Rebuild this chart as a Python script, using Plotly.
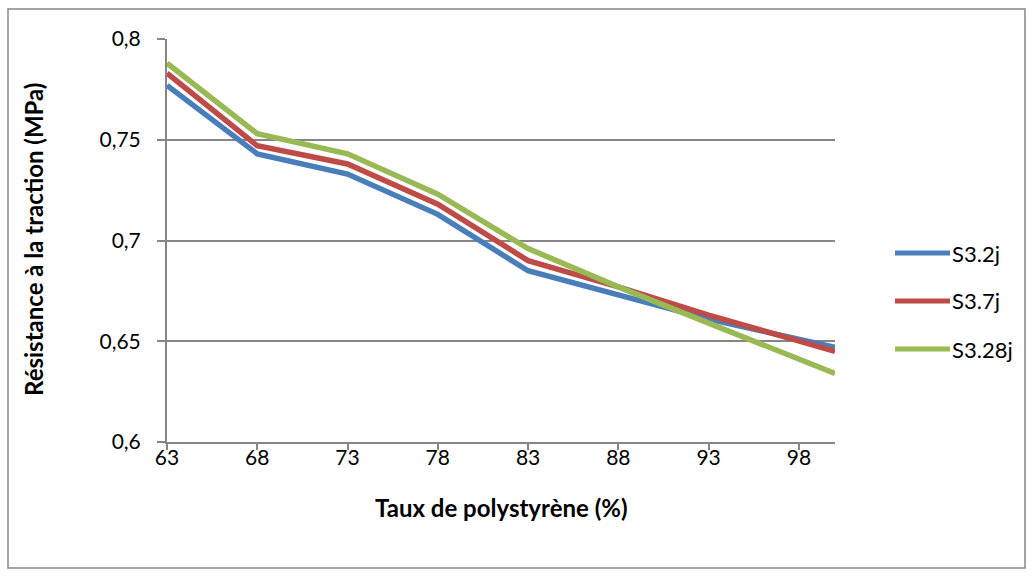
import plotly.graph_objects as go

# Polystyrene content (%) and tensile strength (MPa) per curing age
taux = [63, 68, 73, 78, 83, 88, 93, 100]
s3_2j = [0.777, 0.743, 0.733, 0.713, 0.685, 0.673, 0.661, 0.647]
s3_7j = [0.783, 0.747, 0.738, 0.718, 0.690, 0.677, 0.663, 0.645]
s3_28j = [0.788, 0.753, 0.743, 0.723, 0.696, 0.677, 0.659, 0.634]

series_names = ["S3.2j", "S3.7j", "S3.28j"]
series_colors = ["#4A7EBB", "#BE4B48", "#98B954"]

x_ticks = [63, 68, 73, 78, 83, 88, 93, 98]
y_ticks = [0.6, 0.65, 0.7, 0.75, 0.8]
y_ticklabels = ["0,6", "0,65", "0,7", "0,75", "0,8"]

FONT = "Lato"
GRID = "#868686"

fig = go.Figure()
for name, vals, col in zip(series_names, [s3_2j, s3_7j, s3_28j], series_colors):
    fig.add_trace(go.Scatter(x=taux, y=vals, mode="lines", name=name,
                             line=dict(color=col, width=5.5), showlegend=False))

fig.update_layout(
    width=1034, height=578,
    margin=dict(l=167, r=199, t=39, b=136),
    paper_bgcolor="white", plot_bgcolor="white",
    font=dict(family=FONT, size=21, color="#000000"),
    xaxis=dict(range=[63, 100], tickvals=x_ticks, showgrid=False,
               showline=True, linecolor=GRID, linewidth=2,
               ticks="outside", ticklen=6, tickcolor=GRID, tickwidth=2,
               ticklabelstandoff=-10,
               zeroline=False, tickfont=dict(size=21)),
    yaxis=dict(range=[0.6, 0.8], tickvals=y_ticks, ticktext=y_ticklabels,
               showgrid=True, gridcolor=GRID, gridwidth=2,
               showline=True, linecolor=GRID, linewidth=2,
               ticks="outside", ticklen=8, tickcolor=GRID, tickwidth=2,
               ticklabelstandoff=12,
               zeroline=False, tickfont=dict(size=21)),
)

# Axis titles
fig.add_annotation(text="<b>Taux de polystyrène (%)</b>", xref="paper", yref="paper",
                   x=(501 - 167) / 668, y=(442 - 507) / 403, showarrow=False,
                   font=dict(size=24), xanchor="center", yanchor="middle")
fig.add_annotation(text="<b>Résistance à la traction (MPa)</b>", xref="paper", yref="paper",
                   x=(33 - 167) / 668, y=(442 - 240) / 403, showarrow=False, textangle=-90,
                   font=dict(size=24), xanchor="center", yanchor="middle")

# Legend drawn as line swatches with labels
leg_y = [253, 301, 349]
for name, col, py in zip(series_names, series_colors, leg_y):
    yp = (442 - py) / 403
    fig.add_shape(type="line", xref="paper", yref="paper",
                  x0=(895 - 167) / 668, x1=(950 - 167) / 668, y0=yp, y1=yp,
                  line=dict(color=col, width=5))
    fig.add_annotation(text=name, xref="paper", yref="paper",
                       x=(950 - 167) / 668, y=yp, showarrow=False,
                       xanchor="left", yanchor="middle", font=dict(size=22))

# Chart border
fig.add_shape(type="rect", xref="paper", yref="paper",
              x0=(8 - 167) / 668, x1=(1025 - 167) / 668,
              y0=(442 - 568) / 403, y1=(442 - 9) / 403,
              line=dict(color="#868686", width=1.5), fillcolor="rgba(0,0,0,0)")

fig.write_html("out.html")
